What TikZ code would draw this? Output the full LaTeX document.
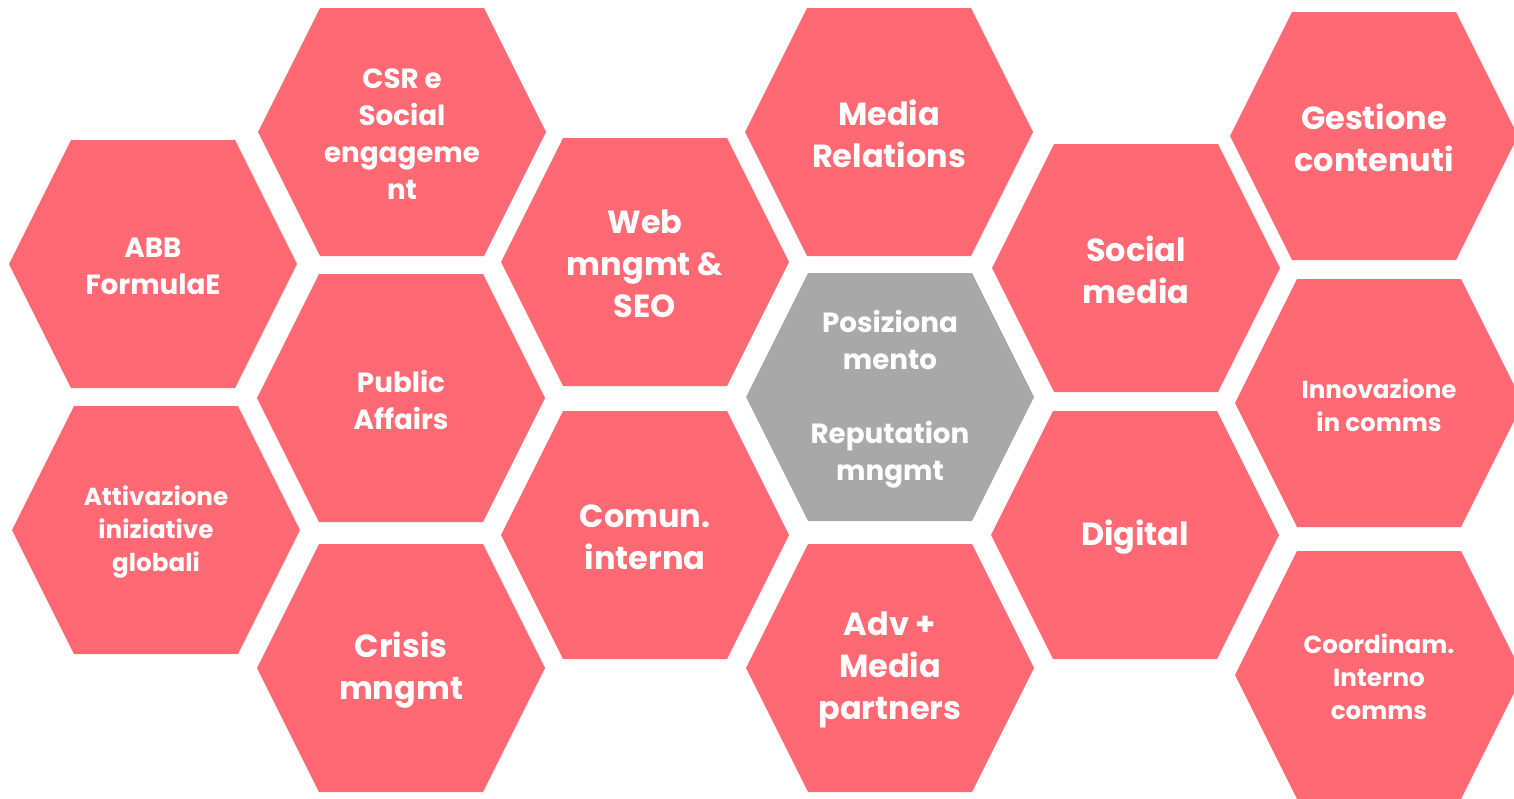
\documentclass[tikz,border=0pt]{standalone}
\usepackage{fontspec}
\setmainfont{Poppins}
\usepackage{tikz}
\definecolor{PINK}{HTML}{FF6973}
\definecolor{GREY}{HTML}{A8A8A8}

% one cell: [text style] {x}{y}{colour}{name}{text}
\newcommand{\hexcell}[6][txtbig]{%
  \fill[#4] (#2,#3) ++(-144,0) -- ++(62,-124) -- ++(164,0) -- ++(62,124) -- ++(-62,124) -- ++(-164,0) -- cycle;
  \node[#1] (#5) at (#2,#3) {#6};
}

\begin{document}
\begin{tikzpicture}[x=0.02cm, y=-0.02cm,
    txt/.style={text=white, align=center, yshift=-0.04cm},
    txtbig/.style={txt, font=\bfseries\fontsize{18.2pt}{23.8pt}\selectfont},
    txtmid/.style={txt, font=\bfseries\fontsize{15.8pt}{21pt}\selectfont},
    txtsmall/.style={txt, font=\bfseries\fontsize{14pt}{18.7pt}\selectfont}]
    \useasboundingbox (0,0) rectangle (1514,798);
    \clip (0,0) rectangle (1514,798);
    % first column
    \hexcell[txtmid]{153}{264}{PINK}{abb}{ABB\\FormulaE}
    \hexcell[txtsmall]{156}{530}{PINK}{attivazione}{Attivazione\\iniziative\\globali}
    % second column
    \hexcell[txtmid]{402}{132}{PINK}{csr}{CSR e\\Social\\engageme\\nt}
    \hexcell[txtmid]{401}{398}{PINK}{public}{Public\\Affairs}
    \hexcell{401}{668}{PINK}{crisis}{Crisis\\mngmt}
    % third column
    \hexcell{645}{262}{PINK}{web}{Web\\mngmt \&\\SEO}
    \hexcell{645}{535}{PINK}{comun}{Comun.\\interna}
    % fourth column
    \hexcell{889}{132}{PINK}{media}{Media\\Relations}
    \hexcell[txtmid]{890}{397}{GREY}{posizionamento}{Posiziona\\mento\\[21pt]Reputation\\mngmt}
    \hexcell{890}{668}{PINK}{adv}{Adv +\\Media\\partners}
    % fifth column
    \hexcell{1136}{268}{PINK}{social}{Social\\media}
    \hexcell{1135}{535}{PINK}{digital}{Digital}
    % sixth column
    \hexcell{1374}{136}{PINK}{gestione}{Gestione\\contenuti}
    \hexcell[txtsmall]{1379}{403}{PINK}{innovazione}{Innovazione\\in comms}
    \hexcell[txtsmall]{1379}{675}{PINK}{coordinam}{Coordinam.\\Interno\\comms}
\end{tikzpicture}
\end{document}
